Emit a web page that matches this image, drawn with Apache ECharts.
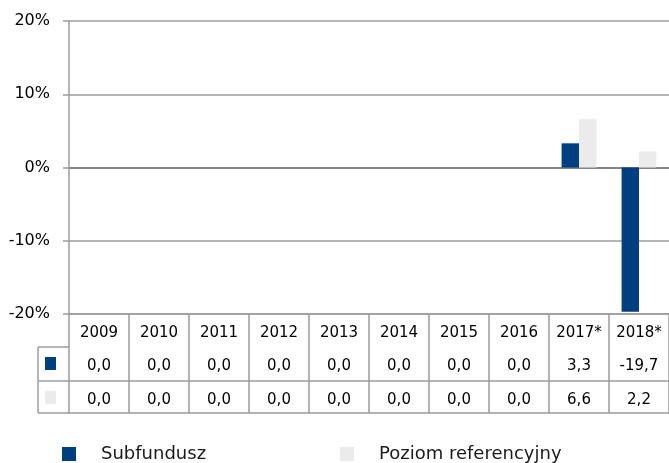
<!DOCTYPE html>
<html>
<head>
<meta charset="utf-8">
<script src="https://cdn.jsdelivr.net/npm/echarts@6/dist/echarts.min.js"></script>
<style>
  html, body { margin: 0; padding: 0; background: #fff; }
  #chart { width: 669px; height: 463px; }
</style>
</head>
<body>
<div id="chart"></div>
<script>
// Annual returns, per cent
const years = ['2009', '2010', '2011', '2012', '2013', '2014', '2015', '2016', '2017*', '2018*'];
const subfundusz = [0.0, 0.0, 0.0, 0.0, 0.0, 0.0, 0.0, 0.0, 3.3, -19.7];
const poziomReferencyjny = [0.0, 0.0, 0.0, 0.0, 0.0, 0.0, 0.0, 0.0, 6.6, 2.2];
const yTicks = [-20, -10, 0, 10, 20];

const seriesNames = ['Subfundusz', 'Poziom referencyjny'];
const BLUE = '#003f7f';
const GREY = '#ebebeb';
const LINE = '#9c9c9c';
const FONT = 'DejaVu Sans';

const fmt = v => v.toFixed(1).replace('.', ',');

const chart = echarts.init(document.getElementById('chart'), null, { renderer: 'canvas' });

// Data-table rows are extra category axes stacked below the plot
const tableAxis = (data, offset, showLabel) => ({
  type: 'category',
  data: data,
  position: 'bottom',
  offset: offset,
  axisLine: { show: true, lineStyle: { color: LINE, width: 1.5 } },
  axisTick: { show: false },
  axisLabel: { show: showLabel, margin: 12, fontSize: 15, color: '#000', fontFamily: FONT }
});

chart.setOption({
  animation: false,
  grid: { left: 69, right: -2, top: 21, bottom: 149, containLabel: false },
  xAxis: [
    {
      type: 'category',
      data: years,
      position: 'bottom',
      axisLine: { show: true, onZero: false, lineStyle: { color: LINE, width: 1.5 } },
      axisTick: { show: true, length: 99, lineStyle: { color: LINE, width: 1.5 } },
      axisLabel: { margin: 12, fontSize: 15, color: '#000', fontFamily: FONT },
      splitLine: { show: false }
    },
    tableAxis(subfundusz.map(fmt), 33, true),
    tableAxis(poziomReferencyjny.map(fmt), 67, true),
    tableAxis(years.map(() => ''), 99, false)
  ],
  yAxis: {
    type: 'value',
    min: yTicks[0],
    max: yTicks[yTicks.length - 1],
    interval: 10,
    axisLine: { show: true, lineStyle: { color: LINE, width: 1.5 } },
    axisTick: { show: true, length: 6, lineStyle: { color: LINE, width: 1.5 } },
    axisLabel: { formatter: '{value}%', margin: 19, fontSize: 16, color: '#000', fontFamily: FONT },
    splitLine: {
      show: true,
      lineStyle: { color: yTicks.map(t => (t === 0 ? '#000' : LINE)), width: 1.5 }
    }
  },
  legend: [
    {
      data: [seriesNames[0]], left: 62, top: 445, padding: 0,
      icon: 'rect', itemWidth: 14, itemHeight: 14,
      textStyle: { fontSize: 18, color: '#1a1a1a', fontFamily: FONT, padding: [0, 0, 0, 20] }
    },
    {
      data: [seriesNames[1]], left: 340, top: 445, padding: 0,
      icon: 'rect', itemWidth: 14, itemHeight: 14,
      textStyle: { fontSize: 18, color: '#1a1a1a', fontFamily: FONT, padding: [0, 0, 0, 20] }
    }
  ],
  series: [
    {
      name: seriesNames[0], type: 'bar', data: subfundusz,
      itemStyle: { color: BLUE }, barGap: '0%', barCategoryGap: '42%'
    },
    {
      name: seriesNames[1], type: 'bar', data: poziomReferencyjny,
      itemStyle: { color: GREY }, barGap: '0%', barCategoryGap: '42%'
    }
  ],
  // Series-key column at the left of the data table
  graphic: [
    { type: 'line', shape: { x1: 38, y1: 347, x2: 69, y2: 347 }, style: { stroke: LINE, lineWidth: 1.5 } },
    { type: 'line', shape: { x1: 38, y1: 381, x2: 69, y2: 381 }, style: { stroke: LINE, lineWidth: 1.5 } },
    { type: 'line', shape: { x1: 38, y1: 413, x2: 69, y2: 413 }, style: { stroke: LINE, lineWidth: 1.5 } },
    { type: 'line', shape: { x1: 38, y1: 347, x2: 38, y2: 413 }, style: { stroke: LINE, lineWidth: 1.5 } },
    { type: 'rect', shape: { x: 45, y: 357, width: 11, height: 13 }, style: { fill: BLUE } },
    { type: 'rect', shape: { x: 45, y: 391, width: 11, height: 13 }, style: { fill: GREY } }
  ]
});
</script>
</body>
</html>
